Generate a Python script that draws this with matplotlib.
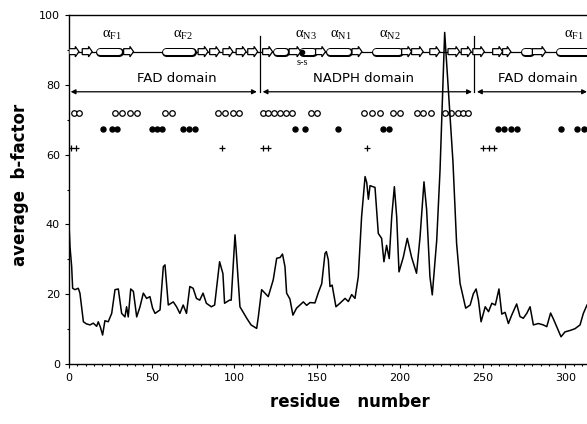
import matplotlib
matplotlib.use("Agg")
import matplotlib.pyplot as plt
from matplotlib.patches import FancyArrow
from matplotlib.ticker import MultipleLocator

# b-factor profile (residue, average b-factor)
residue = [0, 0.6, 1.6, 2.2, 3.6, 5.6, 6.6, 8.7, 10.5, 12.7, 14.7, 16.7, 17.7, 19, 20.3,
           21.7, 23.7, 25.8, 27.8, 29.8, 31.8, 33.8, 34.8, 35.8, 37.3, 38.9, 40.9, 42.9,
           44.9, 46.9, 48.9, 50.5, 52, 55, 57, 58, 60, 63, 65, 67, 69, 71, 73, 75, 77, 79,
           81, 83, 86, 88, 91, 93, 94, 97, 98, 100.3, 101, 103.3, 107.4, 110, 113.4, 114.4,
           116.4, 118.4, 120.4, 123.4, 125.5, 127.5, 129, 130.5, 131.5, 133.5, 135.3, 137.5,
           141.6, 143.6, 145.6, 148.6, 150.7, 152.7, 154.7, 155.5, 156.7, 157.7, 159, 161.3,
           163.7, 166.8, 168.8, 170.8, 172.8, 174.8, 176.8, 178.9, 179.9, 180.9, 181.9, 184.9,
           186.9, 188.9, 190.3, 191.9, 193.5, 195, 196.6, 198, 199.4, 202, 204.4, 207, 210,
           212.1, 214.5, 216.1, 218.1, 219.5, 222.2, 224.2, 227, 232, 234.2, 236.3, 239.7,
           242.4, 244.3, 246, 247.4, 249, 251.5, 253.5, 255.5, 257.6, 259.8, 261.5, 263.5,
           265.5, 267.5, 270.5, 272.5, 274.5, 276.6, 278.6, 280.6, 283.6, 286.6, 288.7, 291,
           292.7, 294.7, 297.3, 299.7, 302.7, 305.7, 308.8, 310.8, 313]
bfactor = [40, 33.6, 28, 21.7, 21.3, 21.7, 20.3, 12.1, 11.5, 11.2, 11.7, 10.8, 12.1, 10.5, 8.3,
           12.4, 12.1, 14.5, 21.3, 21.5, 14.5, 13.5, 16.4, 13.5, 21.5, 20.8, 13.5, 16.4,
           20.3, 18.8, 19.3, 16, 14.5, 15.5, 27.9, 28.4, 16.9, 17.8, 16.4, 14.5, 16.9, 14.5,
           22.2, 21.7, 18.8, 18.3, 20.3, 17.4, 16.4, 16.9, 29.3, 25.9, 17.4, 18.3, 18.3, 37,
           32.7, 16.4, 13.1, 11.2, 10.2, 13.5, 21.3, 20.3, 19.3, 24.1, 30.3, 30.5, 31.5, 27.9,
           20.3, 18.6, 14, 16, 17.8, 16.8, 17.6, 17.5, 20.5, 23, 31.7, 32.2, 29.8, 22.2, 22.6,
           16.4, 17.4, 18.8, 17.9, 19.9, 18.8, 25, 42.2, 53.7, 52, 47.2, 51.1, 50.6, 37.4, 36,
           29.3, 34, 30.2, 42.2, 50.8, 42.2, 26.4, 30.6, 36, 30.6, 26, 36.3, 52.2, 44.2, 25,
           19.8, 35.5, 55.6, 95, 58, 34.6, 23.1, 16, 16.9, 20.1, 21.5, 18.3, 12.1, 16.4, 15,
           17.4, 16.9, 21.5, 14.3, 14.8, 11.6, 14, 17.2, 13.6, 13.1, 14.5, 16.4, 11.2, 11.6,
           11.2, 10.7, 14.6, 12.9, 10.7, 7.8, 9.2, 9.6, 10.1, 11.2, 14.5, 16.9]

# secondary structure (start, end residue)
helices = [(17, 32), (57, 76), (124, 132), (140, 149), (156, 170), (184, 201), (274, 280), (295, 320)]
strands = [(0, 6), (8, 14), (33, 39), (78, 84), (85, 91), (93, 99), (101, 107), (108, 114),
           (117, 123), (133, 140), (149, 155), (171, 177), (201, 207), (207, 214), (218, 224),
           (229, 236), (237, 243), (244, 251), (256, 262), (262, 267), (280, 288)]
helix_names = ["F1", "F2", "N3", "N1", "N2", "F1"]
helix_label_pos = [26, 69, 143, 164, 194, 305]
ss_bond = 141

# domains
domain_names = ["FAD domain", "NADPH domain", "FAD domain"]
domain_start = [1, 117, 246.5]
domain_end = [113.5, 243.5, 313]
domain_label_pos = [65, 178, 283]
boundaries = [115.4, 244.5]

# residue markers (three rows)
open_circles = [3, 6, 28, 32, 37, 41, 58, 62, 90, 94, 99, 103, 117, 120.5, 124, 127.5, 131, 134.5,
                146, 150, 178, 183, 188, 196, 200, 210, 214, 219, 227, 231, 235, 238, 241]
filled_dots = [20.5, 26, 29, 50, 53, 56, 69, 72.5, 76, 136.5, 142.6, 162.5, 190, 193.5,
               259, 263, 267, 271, 297.5, 307, 311]
crosses = [1.5, 4, 92.5, 117, 120, 180, 250, 253.5, 257]

fig = plt.figure(figsize=(5.87, 4.24), dpi=100)
ax = fig.add_axes([69 / 587, 1 - 364 / 424, 1 - 69 / 587, 349 / 424])

ax.plot(residue, bfactor, color="black", lw=1.1, zorder=3)

# secondary structure track
y_ss = 89.5
ax.plot([0, 313], [y_ss, y_ss], color="black", lw=0.9, zorder=4)
for s, e in helices:
    ax.plot([s + 1.5, e - 1.5], [y_ss, y_ss], color="black", lw=6.5, solid_capstyle="round", zorder=5)
    ax.plot([s + 1.5, e - 1.5], [y_ss, y_ss], color="white", lw=4.3, solid_capstyle="round", zorder=6)
for s, e in strands:
    ax.add_patch(FancyArrow(s, y_ss, e - s, 0, width=1.7, head_width=3.0, head_length=2.2,
                            length_includes_head=True, facecolor="white", edgecolor="black",
                            lw=0.9, zorder=6))
for name, x in zip(helix_names, helix_label_pos):
    ax.text(x, 92.3, r"$\mathregular{\alpha_{%s}}$" % name, fontsize=10.5,
            family="Liberation Serif", ha="center", va="bottom", zorder=7)
ax.plot([ss_bond], [y_ss], "o", color="black", ms=3, zorder=7)
ax.text(ss_bond, 86.5, "s-s", fontsize=7.5, family="Liberation Serif", ha="center", va="center")

# domain arrows
y_dom = 78
for name, s, e, xl in zip(domain_names, domain_start, domain_end, domain_label_pos):
    ax.annotate("", xy=(s, y_dom), xytext=(e, y_dom),
                arrowprops=dict(arrowstyle="<|-|>", color="black", lw=0.9,
                                mutation_scale=7, shrinkA=0, shrinkB=0))
    ax.text(xl, 80, name, fontsize=9.5, ha="center", va="bottom")
for b in boundaries:
    ax.plot([b, b], [78, 94], color="black", lw=0.9)

# residue marker rows
ax.plot(open_circles, [72] * len(open_circles), "o", mfc="white", mec="black", ms=4, mew=0.9)
ax.plot(filled_dots, [67.3] * len(filled_dots), "o", color="black", ms=3.6)
ax.plot(crosses, [62] * len(crosses), "+", color="black", ms=4, mew=0.9)

ax.set_xlim(0, 313)
ax.set_ylim(0, 100)
ax.xaxis.set_major_locator(MultipleLocator(50))
ax.xaxis.set_minor_locator(MultipleLocator(5))
ax.yaxis.set_major_locator(MultipleLocator(20))
ax.yaxis.set_minor_locator(MultipleLocator(10))
ax.tick_params(which="both", direction="out", labelsize=8, width=0.8, top=False, right=False)
ax.tick_params(which="major", length=3)
ax.tick_params(which="minor", length=1.5)
ax.spines["right"].set_visible(False)
for sp in ["left", "bottom", "top"]:
    ax.spines[sp].set_linewidth(1.0)

fig.text(350 / 587, 1 - 402 / 424, "residue   number", fontsize=12, fontweight="bold",
         ha="center", va="center")
fig.text(20 / 587, 1 - 185 / 424, "average  b-factor", fontsize=12, fontweight="bold",
         rotation=90, ha="center", va="center")

fig.savefig("out.png", dpi=100)
